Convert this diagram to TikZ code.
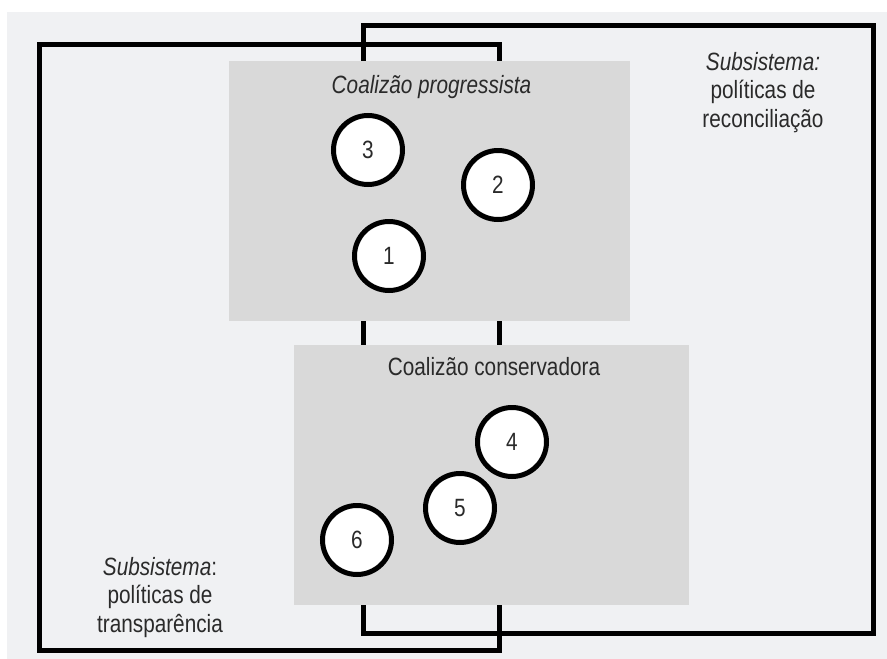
\documentclass[tikz,border=0pt]{standalone}
\usepackage{fontspec}
\setmainfont{Liberation Sans}[FakeStretch=0.83]
\usetikzlibrary{positioning}
\definecolor{bggray}{HTML}{F0F1F3}
\definecolor{boxgray}{HTML}{D9D9D9}
\definecolor{txtgray}{HTML}{2A2A2A}

\begin{document}
\begin{tikzpicture}[x=1pt,y=-1pt,
    frame/.style={line width=5pt},
    coal/.style={fill=boxgray, inner sep=0pt},
    actor/.style={circle, draw=black, line width=5pt, fill=white, minimum size=69pt,
                  inner sep=0pt, text=txtgray, font=\fontsize{25}{28}\selectfont},
    lbl/.style={text=txtgray, inner sep=0pt, align=center, font=\fontsize{25}{28.5}\selectfont}]
      \useasboundingbox (0,0) rectangle (887,659);
      % Light background panel
      \fill[bggray] (7,12) rectangle (887,659);
      % Subsystem frames
      \draw[frame] (39,44) rectangle (499,650);
      \draw[frame] (363,25) rectangle (873,633.5);
      % Coalition boxes
      \node[coal, minimum width=401pt, minimum height=260pt, anchor=north west] (prog) at (229,61) {};
      \node[coal, minimum width=395pt, minimum height=260pt, anchor=north west] (cons) at (294,345) {};
      % Coalition titles
      \node[lbl, anchor=base] (progtitle) at (431.5,93) {\itshape Coalizão progressista};
      \node[lbl, anchor=base] (constitle) at (494,375) {Coalizão conservadora};
      % Subsystem labels
      \node[lbl, anchor=north] (recon) at (763,52) {\textit{Subsistema:}\\políticas de\\reconciliação};
      \node[lbl, anchor=north] (transp) at (160,557) {\textit{Subsistema}:\\políticas de\\transparência};
      % Actors
      \node[actor] (a1) at (389,256) {1};
      \node[actor] (a2) at (498,185) {2};
      \node[actor] (a3) at (368,150) {3};
      \node[actor] (a4) at (512,442) {4};
      \node[actor] (a5) at (460,508) {5};
      \node[actor] (a6) at (357,540) {6};
\end{tikzpicture}
\end{document}
